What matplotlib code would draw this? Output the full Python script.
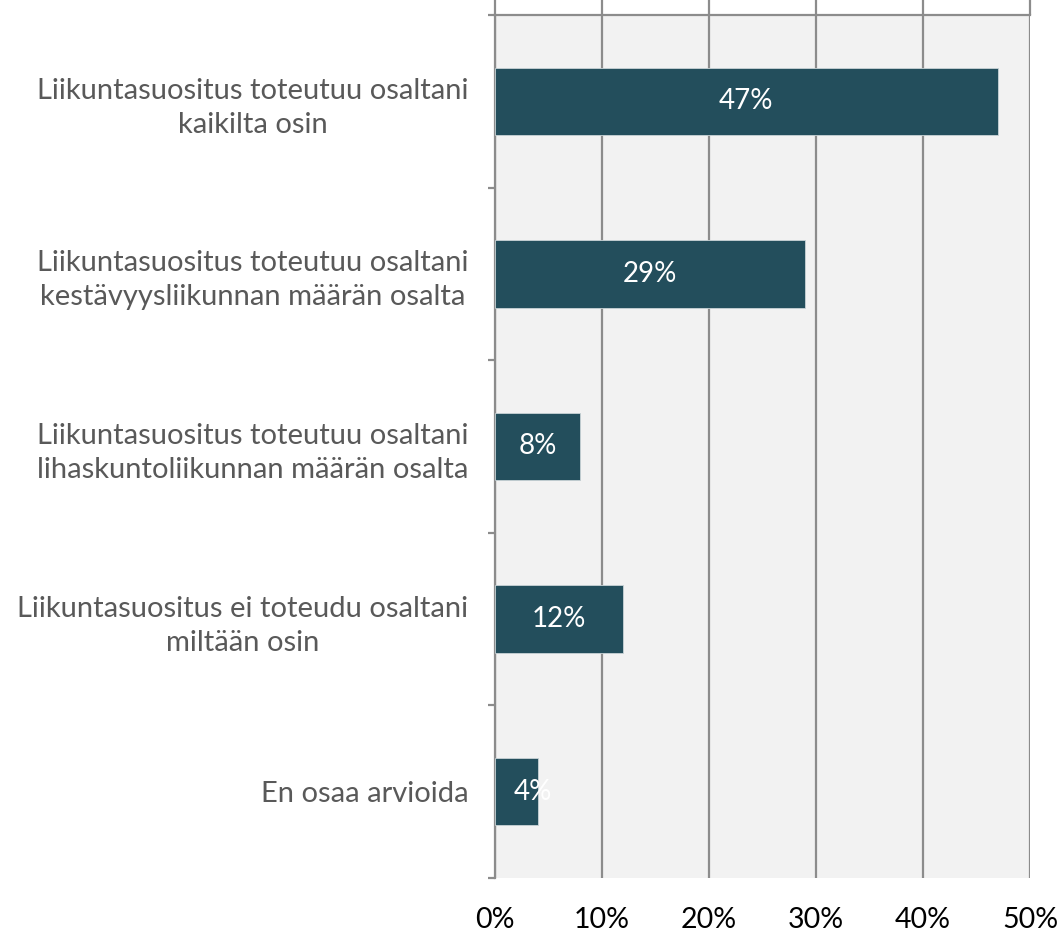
import matplotlib.pyplot as plt

kategoriat = [
    "Liikuntasuositus toteutuu osaltani\nkaikilta osin",
    "Liikuntasuositus toteutuu osaltani\nkestävyysliikunnan määrän osalta",
    "Liikuntasuositus toteutuu osaltani\nlihaskuntoliikunnan määrän osalta",
    "Liikuntasuositus ei toteudu osaltani\nmiltään osin",
    "En osaa arvioida",
]
osuudet = [47, 29, 8, 12, 4]
xtiksit = [0, 10, 20, 30, 40, 50]

plt.rcParams['font.family'] = ['Lato', 'DejaVu Sans']

fig = plt.figure(figsize=(10.64, 9.36), dpi=100)
ax = fig.add_axes([0.465, 0.062, 0.503, 0.922])
ax.set_facecolor("#f2f2f2")

y = list(range(len(kategoriat)))
ax.barh(y, osuudet, height=0.39, color="#234e5c", edgecolor="#c9d3d6", linewidth=0.6, zorder=3)

# arvot palkkien keskelle
for i, v in enumerate(osuudet):
    ax.text(max(v / 2, 3.6), i, f"{v}%", ha="center", va="center", color="white", fontsize=20, zorder=4)

ax.set_xlim(0, 50)
ax.set_ylim(len(kategoriat) - 0.5, -0.5)

ax.set_xticks(xtiksit)
ax.set_xticklabels([f"{t}%" for t in xtiksit], fontsize=20.5, color="black")
ax.tick_params(axis="x", top=True, bottom=False, labeltop=False, labelbottom=True,
               direction="out", length=11, width=1.6, color="#8c8c8c", pad=10)
ax.xaxis.grid(True, color="#8c8c8c", linewidth=1.6, zorder=1)

ax.set_yticks(y)
ax.set_yticklabels(kategoriat, fontsize=21, color="#595959", multialignment="center",
                   linespacing=1.38)
ax.tick_params(axis="y", which="major", length=0, pad=19)
ax.set_yticks([i - 0.5 for i in range(len(kategoriat) + 1)], minor=True)
ax.tick_params(axis="y", which="minor", length=5, width=1.6, color="#8c8c8c", direction="out")

for s in ["right", "bottom"]:
    ax.spines[s].set_visible(False)
for s in ["left", "top"]:
    ax.spines[s].set_color("#8c8c8c")
    ax.spines[s].set_linewidth(1.6)

fig.savefig("out.png", dpi=100)
